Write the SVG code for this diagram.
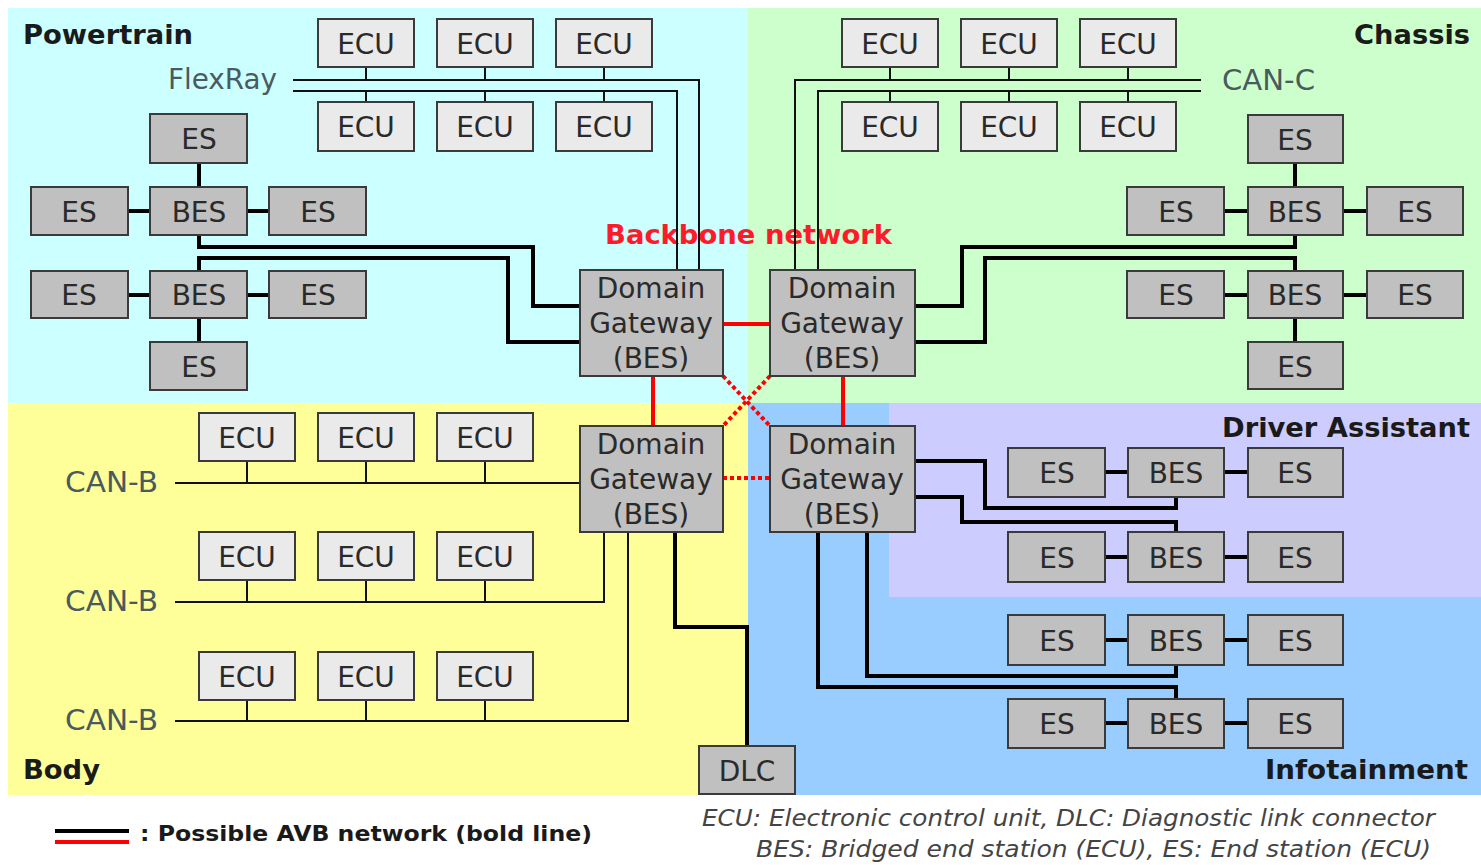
<svg xmlns="http://www.w3.org/2000/svg" width="1481" height="865" viewBox="0 0 1481 865">
<style>
.ecu{fill:#EAEAEA;stroke:#3a3a3a;stroke-width:2}
.es{fill:#C0C0C0;stroke:#3a3a3a;stroke-width:2}
.lbl{font-family:"DejaVu Sans",Verdana,sans-serif;font-size:28px;fill:#2a2a2a;text-anchor:middle}
.bus{font-family:"DejaVu Sans",Verdana,sans-serif;font-size:28px;fill:#4a5a5e}
.head{font-family:"DejaVu Sans",Verdana,sans-serif;font-size:27px;font-weight:bold;fill:#1a1a1a}
.thin{fill:none;stroke:#111;stroke-width:2}
.thick{fill:none;stroke:#000;stroke-width:4}
.red{fill:none;stroke:#FF0000;stroke-width:4}
.reddot{fill:none;stroke:#FF0000;stroke-width:4;stroke-dasharray:4 3}
.cap{font-family:"DejaVu Sans",Verdana,sans-serif;font-size:23px;font-style:italic;fill:#444}
</style>
<rect width="1481" height="865" fill="#fff"/>
<!-- domain backgrounds -->
<rect x="8" y="8" width="740" height="395" fill="#CCFFFF"/>
<rect x="748" y="8" width="733" height="395" fill="#CCFFCC"/>
<rect x="8" y="403" width="740" height="392" fill="#FFFF99"/>
<rect x="748" y="403" width="733" height="392" fill="#99CCFF"/>
<rect x="889" y="403" width="592" height="194" fill="#CCCCFF"/>

<!-- headings / labels -->
<text class="head" x="23" y="44" textLength="170" lengthAdjust="spacingAndGlyphs">Powertrain</text>
<text class="head" x="1470" y="44" text-anchor="end" textLength="116" lengthAdjust="spacingAndGlyphs">Chassis</text>
<text class="head" x="1470" y="437" text-anchor="end" textLength="248" lengthAdjust="spacingAndGlyphs">Driver Assistant</text>
<text class="head" x="1468" y="779" text-anchor="end" textLength="203" lengthAdjust="spacingAndGlyphs">Infotainment</text>
<text class="head" x="23" y="779" textLength="77" lengthAdjust="spacingAndGlyphs">Body</text>
<text class="head" x="605" y="244" style="fill:#FF1a2a" textLength="287" lengthAdjust="spacingAndGlyphs">Backbone network</text>
<text class="bus" x="168" y="89" textLength="109" lengthAdjust="spacingAndGlyphs">FlexRay</text>
<text class="bus" x="1222" y="90" textLength="93" lengthAdjust="spacingAndGlyphs">CAN-C</text>
<text class="bus" x="65" y="492" textLength="93" lengthAdjust="spacingAndGlyphs">CAN-B</text>
<text class="bus" x="65" y="611" textLength="93" lengthAdjust="spacingAndGlyphs">CAN-B</text>
<text class="bus" x="65" y="730" textLength="93" lengthAdjust="spacingAndGlyphs">CAN-B</text>

<!-- connectors -->
<g id="connectors">
 <g id="thin-buses">
  <path class="thin" d="M293,80 H699 V270 M293,91 H677 V270"/>
  <path class="thin" d="M366,67 V80 M485,67 V80 M604,67 V80 M366,91 V102 M485,91 V102 M604,91 V102"/>
  <path class="thin" d="M1201,80 H795 V270 M1201,91 H818 V270"/>
  <path class="thin" d="M890,67 V80 M1009,67 V80 M1128,67 V80 M890,91 V102 M1009,91 V102 M1128,91 V102"/>
  <path class="thin" d="M175,483 H580 M175,602 H604 V532 M175,721 H628 V532"/>
  <path class="thin" d="M247,461 V483 M366,461 V483 M485,461 V483 M247,580 V602 M366,580 V602 M485,580 V602 M247,700 V721 M366,700 V721 M485,700 V721"/>
 </g>
 <g id="avb-links">
  <path class="thick" d="M199,235 V247 H533 V306 H580 M199,271 V258 H508 V342 H580"/>
  <path class="thick" d="M199,163 V187 M128,211 H150 M248,211 H269 M128,295 H150 M248,295 H269 M199,318 V342"/>
  <path class="thick" d="M915,306 H962 V247 H1295 V235 M915,342 H985 V258 H1295 V271"/>
  <path class="thick" d="M1295,163 V187 M1224,211 H1248 M1343,211 H1367 M1224,295 H1248 M1343,295 H1367 M1295,318 V342"/>
  <path class="thick" d="M675,532 V627 H747 V746"/>
  <path class="thick" d="M915,461 H985 V508 H1176 V497 M915,497 H962 V522 H1176 V532 M867,532 V676 H1176 V665 M818,532 V687 H1176 V699"/>
  <path class="thick" d="M1105,472 H1128 M1224,472 H1248 M1105,557 H1128 M1224,557 H1248 M1105,640 H1128 M1224,640 H1248 M1105,723 H1128 M1224,723 H1248"/>
 </g>
 <g id="backbone">
  <path class="red" d="M723,324 H770 M653,376 V426 M843,376 V426"/>
  <path class="reddot" d="M723,478 H770 M723,376 L770,426 M770,376 L723,426"/>
 </g>
</g>

<!-- Powertrain ECUs -->
<g id="pt-ecu1"><rect class="ecu" x="318" y="19" width="96" height="48"/><text class="lbl" x="366" y="54">ECU</text></g>
<g id="pt-ecu2"><rect class="ecu" x="437" y="19" width="96" height="48"/><text class="lbl" x="485" y="54">ECU</text></g>
<g id="pt-ecu3"><rect class="ecu" x="556" y="19" width="96" height="48"/><text class="lbl" x="604" y="54">ECU</text></g>
<g id="pt-ecu4"><rect class="ecu" x="318" y="102" width="96" height="49"/><text class="lbl" x="366" y="137">ECU</text></g>
<g id="pt-ecu5"><rect class="ecu" x="437" y="102" width="96" height="49"/><text class="lbl" x="485" y="137">ECU</text></g>
<g id="pt-ecu6"><rect class="ecu" x="556" y="102" width="96" height="49"/><text class="lbl" x="604" y="137">ECU</text></g>

<!-- Chassis ECUs -->
<g id="ch-ecu1"><rect class="ecu" x="842" y="19" width="96" height="48"/><text class="lbl" x="890" y="54">ECU</text></g>
<g id="ch-ecu2"><rect class="ecu" x="961" y="19" width="96" height="48"/><text class="lbl" x="1009" y="54">ECU</text></g>
<g id="ch-ecu3"><rect class="ecu" x="1080" y="19" width="96" height="48"/><text class="lbl" x="1128" y="54">ECU</text></g>
<g id="ch-ecu4"><rect class="ecu" x="842" y="102" width="96" height="49"/><text class="lbl" x="890" y="137">ECU</text></g>
<g id="ch-ecu5"><rect class="ecu" x="961" y="102" width="96" height="49"/><text class="lbl" x="1009" y="137">ECU</text></g>
<g id="ch-ecu6"><rect class="ecu" x="1080" y="102" width="96" height="49"/><text class="lbl" x="1128" y="137">ECU</text></g>

<!-- Powertrain ES cluster -->
<g id="pt-es-top"><rect class="es" x="150" y="114" width="97" height="49"/><text class="lbl" x="199" y="149">ES</text></g>
<g id="pt-es-l1"><rect class="es" x="31" y="187" width="97" height="48"/><text class="lbl" x="79" y="222">ES</text></g>
<g id="pt-bes1"><rect class="es" x="150" y="187" width="97" height="48"/><text class="lbl" x="199" y="222">BES</text></g>
<g id="pt-es-r1"><rect class="es" x="269" y="187" width="97" height="48"/><text class="lbl" x="318" y="222">ES</text></g>
<g id="pt-es-l2"><rect class="es" x="31" y="271" width="97" height="47"/><text class="lbl" x="79" y="305">ES</text></g>
<g id="pt-bes2"><rect class="es" x="150" y="271" width="97" height="47"/><text class="lbl" x="199" y="305">BES</text></g>
<g id="pt-es-r2"><rect class="es" x="269" y="271" width="97" height="47"/><text class="lbl" x="318" y="305">ES</text></g>
<g id="pt-es-bot"><rect class="es" x="150" y="342" width="97" height="48"/><text class="lbl" x="199" y="377">ES</text></g>

<!-- Chassis ES cluster -->
<g id="ch-es-top"><rect class="es" x="1248" y="115" width="95" height="48"/><text class="lbl" x="1295" y="150">ES</text></g>
<g id="ch-es-l1"><rect class="es" x="1127" y="187" width="97" height="48"/><text class="lbl" x="1176" y="222">ES</text></g>
<g id="ch-bes1"><rect class="es" x="1248" y="187" width="95" height="48"/><text class="lbl" x="1295" y="222">BES</text></g>
<g id="ch-es-r1"><rect class="es" x="1367" y="187" width="96" height="48"/><text class="lbl" x="1415" y="222">ES</text></g>
<g id="ch-es-l2"><rect class="es" x="1127" y="271" width="97" height="47"/><text class="lbl" x="1176" y="305">ES</text></g>
<g id="ch-bes2"><rect class="es" x="1248" y="271" width="95" height="47"/><text class="lbl" x="1295" y="305">BES</text></g>
<g id="ch-es-r2"><rect class="es" x="1367" y="271" width="96" height="47"/><text class="lbl" x="1415" y="305">ES</text></g>
<g id="ch-es-bot"><rect class="es" x="1248" y="342" width="95" height="47"/><text class="lbl" x="1295" y="377">ES</text></g>

<!-- Gateways -->
<g id="gw-powertrain"><rect class="es" x="580" y="270" width="143" height="106"/><text class="lbl" x="651" y="298">Domain</text><text class="lbl" x="651" y="333">Gateway</text><text class="lbl" x="651" y="368">(BES)</text></g>
<g id="gw-chassis"><rect class="es" x="770" y="270" width="145" height="106"/><text class="lbl" x="842" y="298">Domain</text><text class="lbl" x="842" y="333">Gateway</text><text class="lbl" x="842" y="368">(BES)</text></g>
<g id="gw-body"><rect class="es" x="580" y="426" width="143" height="106"/><text class="lbl" x="651" y="454">Domain</text><text class="lbl" x="651" y="489">Gateway</text><text class="lbl" x="651" y="524">(BES)</text></g>
<g id="gw-info"><rect class="es" x="770" y="426" width="145" height="106"/><text class="lbl" x="842" y="454">Domain</text><text class="lbl" x="842" y="489">Gateway</text><text class="lbl" x="842" y="524">(BES)</text></g>

<!-- Body ECUs -->
<g id="b-ecu1"><rect class="ecu" x="199" y="413" width="96" height="48"/><text class="lbl" x="247" y="448">ECU</text></g>
<g id="b-ecu2"><rect class="ecu" x="318" y="413" width="96" height="48"/><text class="lbl" x="366" y="448">ECU</text></g>
<g id="b-ecu3"><rect class="ecu" x="437" y="413" width="96" height="48"/><text class="lbl" x="485" y="448">ECU</text></g>
<g id="b-ecu4"><rect class="ecu" x="199" y="532" width="96" height="48"/><text class="lbl" x="247" y="567">ECU</text></g>
<g id="b-ecu5"><rect class="ecu" x="318" y="532" width="96" height="48"/><text class="lbl" x="366" y="567">ECU</text></g>
<g id="b-ecu6"><rect class="ecu" x="437" y="532" width="96" height="48"/><text class="lbl" x="485" y="567">ECU</text></g>
<g id="b-ecu7"><rect class="ecu" x="199" y="652" width="96" height="48"/><text class="lbl" x="247" y="687">ECU</text></g>
<g id="b-ecu8"><rect class="ecu" x="318" y="652" width="96" height="48"/><text class="lbl" x="366" y="687">ECU</text></g>
<g id="b-ecu9"><rect class="ecu" x="437" y="652" width="96" height="48"/><text class="lbl" x="485" y="687">ECU</text></g>

<g id="dlc"><rect class="es" x="699" y="746" width="96" height="48"/><text class="lbl" x="747" y="781">DLC</text></g>

<!-- Driver assistant / Infotainment rows -->
<g id="da-es-l1"><rect class="es" x="1008" y="448" width="97" height="49"/><text class="lbl" x="1057" y="483">ES</text></g>
<g id="da-bes1"><rect class="es" x="1128" y="448" width="96" height="49"/><text class="lbl" x="1176" y="483">BES</text></g>
<g id="da-es-r1"><rect class="es" x="1248" y="448" width="95" height="49"/><text class="lbl" x="1295" y="483">ES</text></g>
<g id="da-es-l2"><rect class="es" x="1008" y="532" width="97" height="50"/><text class="lbl" x="1057" y="568">ES</text></g>
<g id="da-bes2"><rect class="es" x="1128" y="532" width="96" height="50"/><text class="lbl" x="1176" y="568">BES</text></g>
<g id="da-es-r2"><rect class="es" x="1248" y="532" width="95" height="50"/><text class="lbl" x="1295" y="568">ES</text></g>
<g id="if-es-l1"><rect class="es" x="1008" y="615" width="97" height="50"/><text class="lbl" x="1057" y="651">ES</text></g>
<g id="if-bes1"><rect class="es" x="1128" y="615" width="96" height="50"/><text class="lbl" x="1176" y="651">BES</text></g>
<g id="if-es-r1"><rect class="es" x="1248" y="615" width="95" height="50"/><text class="lbl" x="1295" y="651">ES</text></g>
<g id="if-es-l2"><rect class="es" x="1008" y="699" width="97" height="49"/><text class="lbl" x="1057" y="734">ES</text></g>
<g id="if-bes2"><rect class="es" x="1128" y="699" width="96" height="49"/><text class="lbl" x="1176" y="734">BES</text></g>
<g id="if-es-r2"><rect class="es" x="1248" y="699" width="95" height="49"/><text class="lbl" x="1295" y="734">ES</text></g>

<!-- legend -->
<g id="legend">
 <path d="M55,831 H129" stroke="#000" stroke-width="4"/>
 <path d="M55,842 H129" stroke="#FF0000" stroke-width="4"/>
 <text class="head" x="140" y="841" style="font-size:22px" textLength="452" lengthAdjust="spacingAndGlyphs">: Possible AVB network (bold line)</text>
 <text class="cap" x="702" y="826" textLength="733" lengthAdjust="spacingAndGlyphs">ECU: Electronic control unit, DLC: Diagnostic link connector</text>
 <text class="cap" x="756" y="857" textLength="675" lengthAdjust="spacingAndGlyphs">BES: Bridged end station (ECU), ES: End station (ECU)</text>
</g>
</svg>
